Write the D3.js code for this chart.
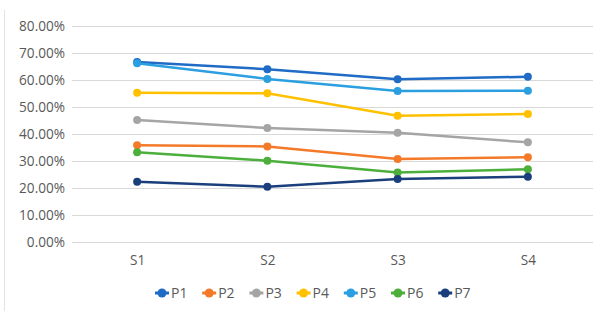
<!DOCTYPE html>
<html>
<head>
    <meta charset="utf-8">
    <title>Line chart</title>
    <script src="https://d3js.org/d3.v7.min.js"></script>
    <style>
        body { margin: 0; background: #fff; }
        text { font-family: "Open Sans", "DejaVu Sans", sans-serif; fill: #595959; }
    </style>
</head>
<body>
    <div id="chart"></div>
    <script>
        // data
        const categories = ["S1", "S2", "S3", "S4"];
        const seriesNames = ["P1", "P2", "P3", "P4", "P5", "P6", "P7"];
        const P1 = [0.667, 0.640, 0.603, 0.612];
        const P2 = [0.358, 0.354, 0.307, 0.314];
        const P3 = [0.452, 0.422, 0.405, 0.369];
        const P4 = [0.553, 0.551, 0.468, 0.474];
        const P5 = [0.662, 0.604, 0.559, 0.560];
        const P6 = [0.332, 0.301, 0.257, 0.269];
        const P7 = [0.223, 0.205, 0.233, 0.242];
        const yTicks = [0, 0.1, 0.2, 0.3, 0.4, 0.5, 0.6, 0.7, 0.8];
        const colors = ["#1F6BC6", "#F47A2A", "#A5A5A5", "#FFC000", "#2B9FE0", "#4CAF3C", "#1A3F7C"];

        const series = [P1, P2, P3, P4, P5, P6, P7].map((v, i) => ({name: seriesNames[i], values: v}));

        const W = 604, H = 311;
        const margin = {top: 26, right: 11, bottom: 69, left: 72};
        const width = W - margin.left - margin.right;
        const height = H - margin.top - margin.bottom;

        const root = d3.select("#chart").append("svg")
            .attr("width", W)
            .attr("height", H);

        // faint frame edge on the left
        root.append("line")
            .attr("x1", 4.5).attr("x2", 4.5)
            .attr("y1", 10).attr("y2", H)
            .attr("stroke", "#e4e4e4");

        const svg = root.append("g")
            .attr("transform", `translate(${margin.left},${margin.top})`);

        const x = d3.scalePoint()
            .domain(categories)
            .range([0, width])
            .padding(0.5);

        const y = d3.scaleLinear()
            .domain([0, 0.8])
            .range([height, 0]);

        // grid lines
        svg.append("g")
            .selectAll("line")
            .data(yTicks)
            .enter()
            .append("line")
            .attr("x1", 0)
            .attr("x2", width)
            .attr("y1", d => Math.round(y(d)) + 0.5)
            .attr("y2", d => Math.round(y(d)) + 0.5)
            .attr("stroke", "#d9d9d9")
            .attr("stroke-width", 1);

        // y axis labels
        const yAxis = svg.append("g")
            .call(d3.axisLeft(y).tickValues(yTicks).tickFormat(d3.format(".2%")).tickSize(0).tickPadding(7));
        yAxis.select(".domain").remove();
        yAxis.selectAll("text").style("font-size", "13.6px").attr("fill", "#595959");

        // x axis labels
        const xAxis = svg.append("g")
            .attr("transform", `translate(0,${height})`)
            .call(d3.axisBottom(x).tickSize(0).tickPadding(13));
        xAxis.select(".domain").remove();
        xAxis.selectAll("text").style("font-size", "13.6px").attr("fill", "#595959");

        const line = d3.line()
            .x((d, i) => x(categories[i]))
            .y(d => y(d));

        const groups = svg.selectAll(".series")
            .data(series)
            .enter()
            .append("g")
            .attr("class", "series");

        groups.append("path")
            .attr("d", d => line(d.values))
            .attr("fill", "none")
            .attr("stroke", (d, i) => colors[i])
            .attr("stroke-width", 2.5);

        groups.each(function(s, si) {
            d3.select(this).selectAll("circle")
                .data(s.values)
                .enter()
                .append("circle")
                .attr("cx", (d, i) => x(categories[i]))
                .attr("cy", d => y(d))
                .attr("r", 4)
                .attr("fill", colors[si]);
        });

        // legend
        const legend = root.append("g")
            .attr("transform", `translate(162, 293)`);

        seriesNames.forEach((name, i) => {
            const item = legend.append("g")
                .attr("transform", `translate(${i * 47.2}, 0)`);
            item.append("line")
                .attr("x1", -7).attr("x2", 7)
                .attr("stroke", colors[i])
                .attr("stroke-width", 3);
            item.append("circle")
                .attr("r", 4.5)
                .attr("fill", colors[i]);
            item.append("text")
                .attr("x", 9)
                .attr("y", 5)
                .style("font-size", "14px")
                .text(name);
        });
    </script>
</body>
</html>
